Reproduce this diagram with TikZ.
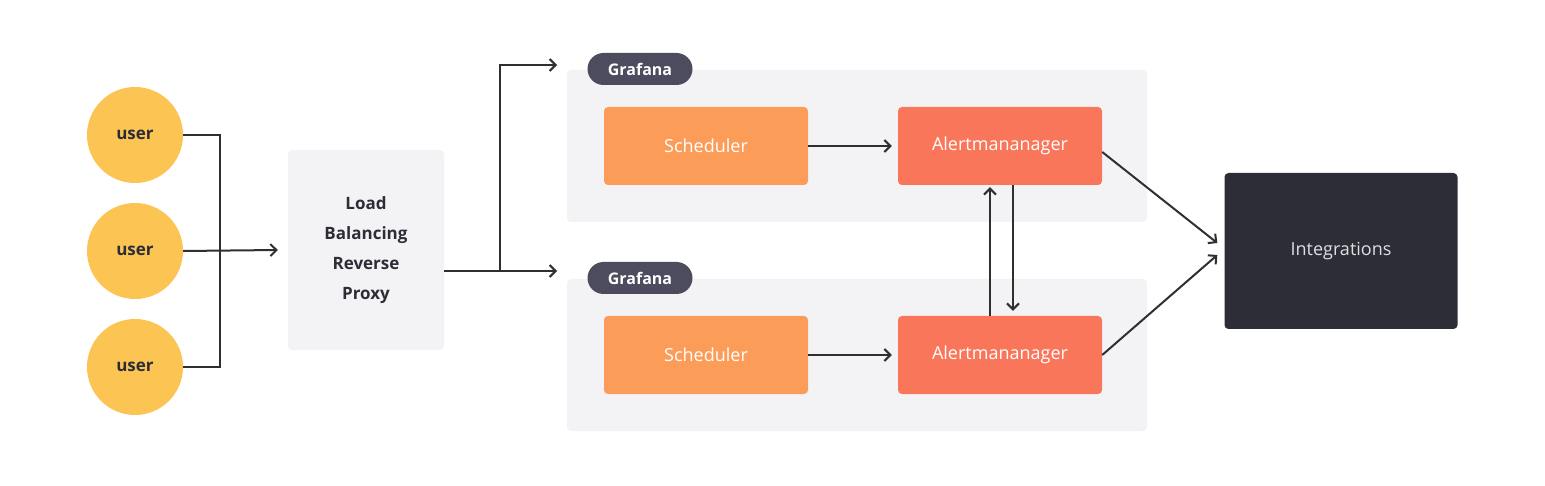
\documentclass[tikz,border=0pt]{standalone}
\usepackage{fontspec}
\setmainfont{Open Sans}
\usetikzlibrary{arrows.meta}

\definecolor{usercol}{HTML}{FCC453}
\definecolor{panelcol}{HTML}{F3F3F5}
\definecolor{tagcol}{HTML}{4D4C5F}
\definecolor{schedcol}{HTML}{FB9C59}
\definecolor{amcol}{HTML}{F9765A}
\definecolor{intcol}{HTML}{2D2D37}
\definecolor{linecol}{HTML}{2F2F2F}

\begin{document}
\begin{tikzpicture}[x=1pt,y=-1pt,>={Straight Barb[length=6pt,width=12pt]},
  user/.style={circle,fill=usercol,minimum size=96pt,inner sep=0pt,
    font=\fontsize{17}{20}\selectfont\bfseries,text=intcol},
  panel/.style={fill=panelcol,rounded corners=4pt},
  tag/.style={rounded corners=16pt,fill=tagcol,minimum width=105pt,minimum height=32pt,
    text=white,font=\fontsize{16}{19}\selectfont\bfseries},
  box/.style={rounded corners=4pt,minimum width=204pt,minimum height=78pt,text=white,
    font=\fontsize{18}{21}\selectfont},
  conn/.style={draw=linecol,line width=2pt}]
  \useasboundingbox (0,0) rectangle (1545,486);

  % users
  \foreach \n/\y in {1/135,2/251,3/367}
  {
    \node[user] (u\n) at (135,\y) {user};
  }
  \coordinate (join) at (220,251);
  \draw[conn] (u1.east) -| (join) |- (u3.east);

  \node[panel,minimum width=156pt,minimum height=200pt,align=center,text=intcol,
    font=\fontsize{17}{30}\selectfont\bfseries] (lb) at (366,250)
    {Load\\Balancing\\Reverse\\Proxy};
  \draw[conn,->] (u2.east) -- ([xshift=-10pt]lb.west);

  % two grafana instances
  \foreach \n/\y in {1/0,2/209}
  {
    \node[panel,minimum width=580pt,minimum height=152pt] (g\n) at (857,146+\y) {};
    \node[tag] (t\n) at (640,69+\y) {Grafana};
    \node[box,fill=schedcol] (s\n) at (706,146+\y) {Scheduler};
    \node[box,fill=amcol] (am\n) at (1000,146+\y) {Alertmananager};
    \draw[conn,->] (s\n.east) -- ([xshift=-6pt]am\n.west |- s\n.east);
  }

  \coordinate (fork) at (500,271);
  \coordinate (in1) at (557,65);
  \coordinate (in2) at (557,271);
  \draw[conn] (lb.east |- fork) -- (fork);
  \draw[conn,->] (fork) |- (in1);
  \draw[conn,->] (fork) -- (in2);

  \draw[conn,->] ([xshift=-10pt]am2.north) -- ([xshift=-10pt,yshift=-2pt]am1.south);
  \draw[conn,->] ([xshift=13pt]am1.south) -- ([xshift=13pt,yshift=5pt]am2.north);

  \node[fill=intcol,rounded corners=4pt,minimum width=233pt,minimum height=156pt,
    text=white!85!intcol,font=\fontsize{18}{21}\selectfont] (intg) at (1341,251) {Integrations};
  \draw[conn,->] ([yshift=-6pt]am1.east) -- ([xshift=-7pt,yshift=8pt]intg.west);
  \draw[conn,->] (am2.east) -- ([xshift=-7pt,yshift=-4pt]intg.west);
\end{tikzpicture}
\end{document}
